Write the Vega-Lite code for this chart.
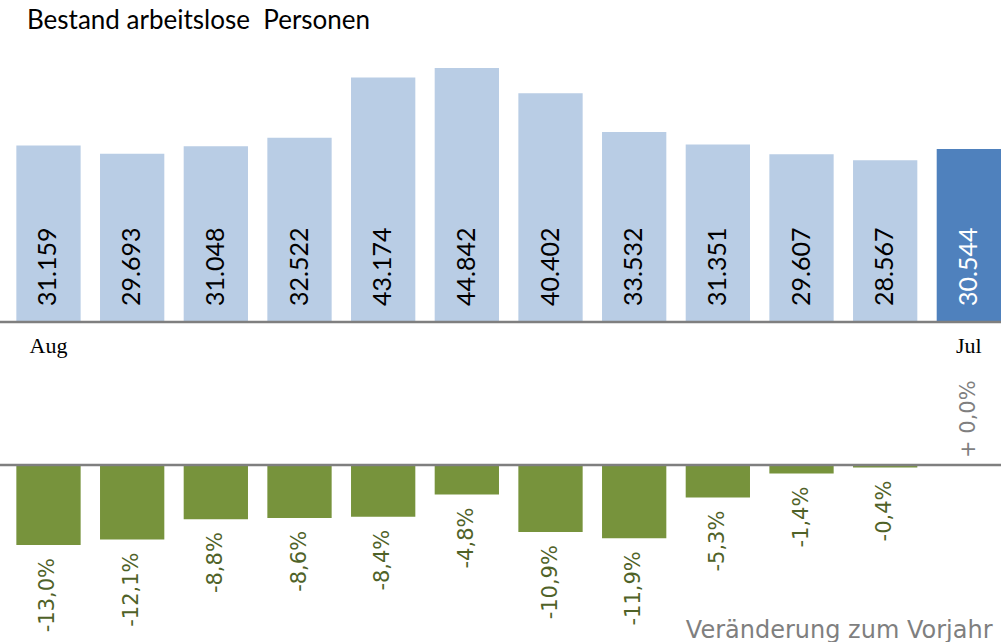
{
  "$schema": "https://vega.github.io/schema/vega-lite/v6.json",
  "width": 1001,
  "height": 572,
  "autosize": {"type": "none"},
  "padding": {"left": 0, "right": 0, "top": 40, "bottom": 30},
  "background": "white",
  "title": {
    "text": "Bestand arbeitslose\u00a0 Personen",
    "anchor": "start",
    "frame": "group",
    "dx": 27,
    "font": "Lato",
    "fontSize": 26,
    "fontWeight": "normal",
    "color": "black",
    "baseline": "alphabetic",
    "offset": -15
  },
  "config": {"view": {"stroke": null}},
  "data": {
    "values": [
      {"monat": "Aug", "bestand": 31159, "bestand_text": "31.159", "veraenderung": -13.0, "veraenderung_text": "-13,0%"},
      {"monat": "Sep", "bestand": 29693, "bestand_text": "29.693", "veraenderung": -12.1, "veraenderung_text": "-12,1%"},
      {"monat": "Okt", "bestand": 31048, "bestand_text": "31.048", "veraenderung": -8.8, "veraenderung_text": "-8,8%"},
      {"monat": "Nov", "bestand": 32522, "bestand_text": "32.522", "veraenderung": -8.6, "veraenderung_text": "-8,6%"},
      {"monat": "Dez", "bestand": 43174, "bestand_text": "43.174", "veraenderung": -8.4, "veraenderung_text": "-8,4%"},
      {"monat": "Jan", "bestand": 44842, "bestand_text": "44.842", "veraenderung": -4.8, "veraenderung_text": "-4,8%"},
      {"monat": "Feb", "bestand": 40402, "bestand_text": "40.402", "veraenderung": -10.9, "veraenderung_text": "-10,9%"},
      {"monat": "Mär", "bestand": 33532, "bestand_text": "33.532", "veraenderung": -11.9, "veraenderung_text": "-11,9%"},
      {"monat": "Apr", "bestand": 31351, "bestand_text": "31.351", "veraenderung": -5.3, "veraenderung_text": "-5,3%"},
      {"monat": "Mai", "bestand": 29607, "bestand_text": "29.607", "veraenderung": -1.4, "veraenderung_text": "-1,4%"},
      {"monat": "Jun", "bestand": 28567, "bestand_text": "28.567", "veraenderung": -0.4, "veraenderung_text": "-0,4%"},
      {"monat": "Jul", "bestand": 30544, "bestand_text": "30.544", "veraenderung": 0.0, "veraenderung_text": "+ 0,0%"}
    ]
  },
  "layer": [
    {
      "layer": [
        {
          "mark": {"type": "bar"},
          "encoding": {
            "x": {"field": "monat", "type": "nominal", "sort": null, "scale": {"type": "band", "paddingInner": 0.2315, "paddingOuter": 0.0977, "align": 1}, "axis": {"labels": false, "ticks": false, "domain": false, "grid": false, "title": "Veränderung zum Vorjahr", "titleAnchor": "end", "titleAlign": "right", "titleX": 992, "titleFont": "DejaVu Sans", "titleFontSize": 24, "titleFontWeight": "normal", "titleColor": "#7f7f7f", "titleBaseline": "alphabetic", "titlePadding": 25}},
            "y": {"field": "bestand", "type": "quantitative", "scale": {"domain": [-51197, 49785], "nice": false, "zero": false}, "axis": null},
            "y2": {"datum": 0},
            "color": {"condition": {"test": "datum.monat === 'Jul'", "value": "#4f81bd"}, "value": "#b9cde5"}
          }
        },
        {
          "transform": [{"filter": "datum.monat === 'Aug'"}],
          "mark": {"type": "rule", "color": "#7f7f7f", "strokeWidth": 2.5},
          "encoding": {
            "y": {"datum": 0, "type": "quantitative", "scale": {"domain": [-51197, 49785], "nice": false, "zero": false}, "axis": null}
          }
        },
        {
          "mark": {"type": "text", "angle": 270, "align": "left", "baseline": "middle", "dx": 16, "font": "Lato", "fontSize": 25},
          "encoding": {
            "x": {"field": "monat", "type": "nominal", "sort": null, "scale": {"type": "band", "paddingInner": 0.2315, "paddingOuter": 0.0977, "align": 1}, "axis": {"labels": false, "ticks": false, "domain": false, "grid": false, "title": "Veränderung zum Vorjahr", "titleAnchor": "end", "titleAlign": "right", "titleX": 992, "titleFont": "DejaVu Sans", "titleFontSize": 24, "titleFontWeight": "normal", "titleColor": "#7f7f7f", "titleBaseline": "alphabetic", "titlePadding": 25}},
            "y": {"datum": 0, "type": "quantitative", "scale": {"domain": [-51197, 49785], "nice": false, "zero": false}, "axis": null},
            "text": {"field": "bestand_text"},
            "color": {"condition": {"test": "datum.monat === 'Jul'", "value": "white"}, "value": "black"}
          }
        },
        {
          "transform": [{"filter": "datum.monat === 'Aug' || datum.monat === 'Jul'"}],
          "mark": {"type": "text", "align": "center", "baseline": "alphabetic", "dy": 31, "font": "Liberation Serif", "fontSize": 22, "color": "black"},
          "encoding": {
            "x": {"field": "monat", "type": "nominal", "sort": null, "scale": {"type": "band", "paddingInner": 0.2315, "paddingOuter": 0.0977, "align": 1}, "axis": {"labels": false, "ticks": false, "domain": false, "grid": false, "title": "Veränderung zum Vorjahr", "titleAnchor": "end", "titleAlign": "right", "titleX": 992, "titleFont": "DejaVu Sans", "titleFontSize": 24, "titleFontWeight": "normal", "titleColor": "#7f7f7f", "titleBaseline": "alphabetic", "titlePadding": 25}},
            "y": {"datum": 0, "type": "quantitative", "scale": {"domain": [-51197, 49785], "nice": false, "zero": false}, "axis": null},
            "text": {"field": "monat"}
          }
        }
      ]
    },
    {
      "layer": [
        {
          "mark": {"type": "bar", "color": "#77933c"},
          "encoding": {
            "x": {"field": "monat", "type": "nominal", "sort": null, "scale": {"type": "band", "paddingInner": 0.2315, "paddingOuter": 0.0977, "align": 1}, "axis": {"labels": false, "ticks": false, "domain": false, "grid": false, "title": "Veränderung zum Vorjahr", "titleAnchor": "end", "titleAlign": "right", "titleX": 992, "titleFont": "DejaVu Sans", "titleFontSize": 24, "titleFontWeight": "normal", "titleColor": "#7f7f7f", "titleBaseline": "alphabetic", "titlePadding": 25}},
            "y": {"field": "veraenderung", "type": "quantitative", "scale": {"domain": [-23.89, 69.06], "nice": false, "zero": false}, "axis": null},
            "y2": {"datum": 0}
          }
        },
        {
          "transform": [{"filter": "datum.monat === 'Aug'"}],
          "mark": {"type": "rule", "color": "#7f7f7f", "strokeWidth": 2.5},
          "encoding": {
            "y": {"datum": 0, "type": "quantitative", "scale": {"domain": [-23.89, 69.06], "nice": false, "zero": false}, "axis": null}
          }
        },
        {
          "transform": [{"filter": "datum.veraenderung < 0"}],
          "mark": {"type": "text", "angle": 270, "align": "right", "baseline": "middle", "dx": -13, "font": "DejaVu Sans", "fontSize": 21, "color": "#4f6228"},
          "encoding": {
            "x": {"field": "monat", "type": "nominal", "sort": null, "scale": {"type": "band", "paddingInner": 0.2315, "paddingOuter": 0.0977, "align": 1}, "axis": {"labels": false, "ticks": false, "domain": false, "grid": false, "title": "Veränderung zum Vorjahr", "titleAnchor": "end", "titleAlign": "right", "titleX": 992, "titleFont": "DejaVu Sans", "titleFontSize": 24, "titleFontWeight": "normal", "titleColor": "#7f7f7f", "titleBaseline": "alphabetic", "titlePadding": 25}},
            "y": {"field": "veraenderung", "type": "quantitative", "scale": {"domain": [-23.89, 69.06], "nice": false, "zero": false}, "axis": null},
            "text": {"field": "veraenderung_text"}
          }
        },
        {
          "transform": [{"filter": "datum.veraenderung === 0"}],
          "mark": {"type": "text", "angle": 270, "align": "left", "baseline": "middle", "dx": 7, "font": "DejaVu Sans", "fontSize": 21, "color": "#7f7f7f"},
          "encoding": {
            "x": {"field": "monat", "type": "nominal", "sort": null, "scale": {"type": "band", "paddingInner": 0.2315, "paddingOuter": 0.0977, "align": 1}, "axis": {"labels": false, "ticks": false, "domain": false, "grid": false, "title": "Veränderung zum Vorjahr", "titleAnchor": "end", "titleAlign": "right", "titleX": 992, "titleFont": "DejaVu Sans", "titleFontSize": 24, "titleFontWeight": "normal", "titleColor": "#7f7f7f", "titleBaseline": "alphabetic", "titlePadding": 25}},
            "y": {"field": "veraenderung", "type": "quantitative", "scale": {"domain": [-23.89, 69.06], "nice": false, "zero": false}, "axis": null},
            "text": {"field": "veraenderung_text"}
          }
        }
      ]
    }
  ],
  "resolve": {"scale": {"y": "independent"}, "axis": {"y": "independent"}}
}
